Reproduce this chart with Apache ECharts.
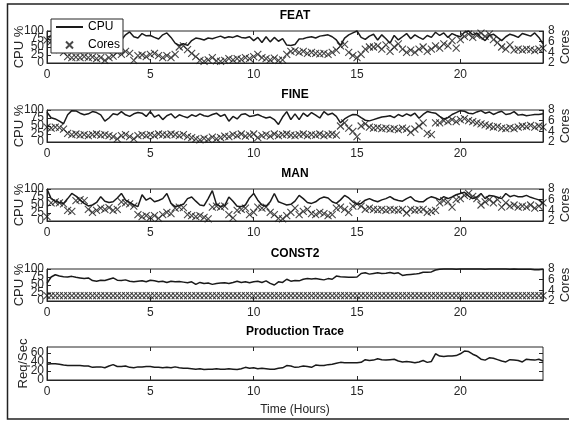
<!DOCTYPE html>
<html>
<head>
<meta charset="utf-8">
<script src="https://cdn.jsdelivr.net/npm/echarts@6/dist/echarts.min.js"></script>
<style>
html, body { margin: 0; padding: 0; background: #fff; }
#main { width: 569px; height: 422px; }
</style>
</head>
<body>
<div id="main"></div>
<script>
// sampling grid: one point every 0.2 h over 24 h
var hours = [];
for (var i = 0; i <= 120; i++) hours.push(Math.round(i * 2) / 10);

var titles = ['FEAT', 'FINE', 'MAN', 'CONST2', 'Production Trace'];
var xTicks = [0, 5, 10, 15, 20];
var cpuTicks = [0, 25, 50, 75, 100];
var coreTicks = [2, 4, 6, 8];
var reqTicks = [0, 20, 40, 60];

var featCpu = [
  80, 85, 75, 90, 80, 70, 85, 90, 75, 80,
  88, 72, 85, 92, 78, 82, 70, 75, 72, 88,
  97, 82, 78, 92, 85, 86, 80, 75, 88, 94,
  80, 62, 55, 60, 55, 70, 78, 76, 72, 78,
  76, 80, 84, 78, 82, 80, 85, 80, 78, 82,
  70, 80, 64, 82, 66, 80, 68, 76, 56, 55,
  58, 75, 76, 80, 82, 78, 84, 86, 88, 82,
  72, 55, 78, 88, 94, 100, 80, 74, 84, 90,
  72, 88, 76, 62, 86, 72, 82, 92, 76, 88,
  80, 74, 86, 80, 96, 86, 94, 80, 92, 86,
  82, 96, 100, 88, 94, 80, 70, 86, 90, 80,
  70, 82, 90, 86, 80, 92, 88, 84, 94, 80,
  60
];
var featCores = [
  6.3, 6.0, 5.5, 4.5, 4.0, 3.2, 3.0, 3.1, 3.0, 3.2,
  3.0, 3.1, 2.8, 3.0, 2.5, 3.0, 3.3, 4.0, 3.6, 4.2,
  3.8, 2.5, 3.4, 3.5, 3.2, 3.6, 3.8, 3.4, 3.0, 3.4,
  3.0, 3.6, 5.0, 5.2, 4.5, 3.8, 3.2, 2.5, 2.3, 2.6,
  3.0, 2.4, 2.3, 2.5, 2.8, 2.6, 2.8, 2.7, 3.0, 2.8,
  3.2, 3.6, 3.0, 2.8, 2.6, 2.9, 2.5, 2.6, 3.6, 4.2,
  4.3, 4.0, 4.2, 3.8, 4.0, 3.8, 3.7, 3.8, 3.6, 4.0,
  4.4, 5.2, 5.5, 4.0, 3.4, 3.0, 3.6, 4.6, 5.0, 5.0,
  5.2, 4.6, 5.4, 4.2, 5.0, 5.6, 4.6, 4.0, 4.4, 4.0,
  4.6, 5.0, 4.2, 4.6, 5.2, 4.8, 5.6, 5.2, 6.2, 4.8,
  6.4, 7.0, 7.4, 6.8, 7.2, 7.6, 7.0, 7.4, 6.4, 5.8,
  5.0, 4.6, 5.4, 4.4, 4.6, 4.4, 4.6, 4.5, 4.3, 4.6,
  4.8
];
var fineCpu = [
  93, 76, 72, 65, 57, 85, 98, 97, 90, 85,
  88, 95, 92, 85, 65, 75, 88, 85, 95, 85,
  80, 88, 92, 90, 80, 95, 78, 85, 70, 82,
  88, 75, 85, 80, 76, 85, 80, 88, 82, 80,
  86, 90, 80, 86, 65, 80, 72, 86, 88, 80,
  82, 86, 80, 75, 78, 70, 55, 78, 95, 70,
  88, 70, 90, 80, 92, 84, 75, 95, 85, 90,
  80, 60, 72, 80, 86, 85, 76, 68, 66, 70,
  74, 78, 80, 82, 76, 86, 80, 88, 82, 90,
  74, 86, 95, 92, 90, 80, 72, 76, 86, 92,
  98, 96, 90, 88, 94, 98, 90, 94, 86, 92,
  96, 86, 88, 95, 84, 86, 82, 84, 86, 86,
  88
];
var fineCores = [
  4.8, 4.6, 4.8, 4.7, 4.4, 3.6, 3.4, 3.5, 3.3, 3.4,
  3.2, 3.4, 3.5, 3.3, 3.4, 3.2, 3.0, 2.6, 3.2, 3.4,
  3.0, 2.6, 3.2, 3.4, 3.2, 3.4, 3.2, 3.5, 3.4, 3.3,
  3.5, 3.4, 3.2, 3.4, 3.0, 2.8, 2.6, 2.4, 2.7, 2.5,
  2.9, 2.6, 2.8, 3.1, 3.0, 3.4, 3.2, 3.5, 3.1, 3.3,
  3.5, 2.8, 3.2, 3.4, 3.1, 3.5, 3.2, 3.4, 3.5, 3.3,
  3.2, 3.4, 3.5, 3.2, 3.4, 3.3, 3.5, 3.2, 3.4, 3.5,
  3.3, 5.0, 5.6, 4.6, 4.0, 3.0, 5.0, 5.4, 4.8, 4.6,
  4.7, 4.5, 4.6, 4.4, 4.5, 4.3, 4.6, 4.4, 3.8, 4.4,
  5.0, 5.6, 3.6, 3.4, 5.6, 5.6, 6.0, 5.8, 6.2, 5.8,
  6.2, 6.4, 6.0, 5.8, 5.6, 5.4, 5.2, 5.0, 4.8, 4.9,
  4.6, 4.5, 4.7, 4.5, 4.8, 5.0, 4.9, 5.1, 4.8, 5.0,
  4.8
];
var manCpu = [
  100, 70, 62, 58, 55, 70, 86, 78, 65, 55,
  47, 50, 58, 76, 62, 58, 60, 72, 86, 65,
  58, 50, 45, 82, 65, 72, 60, 64, 70, 86,
  55, 45, 48, 52, 70, 75, 62, 50, 48, 70,
  95, 52, 45, 48, 75, 62, 46, 45, 50, 72,
  86, 65, 50, 46, 60, 86, 60, 55, 50, 52,
  62, 80, 70, 58, 55, 60, 70, 75, 72, 60,
  55, 66, 80, 72, 60, 52, 55, 65, 70, 64,
  60, 66, 70, 76, 68, 64, 62, 70, 76, 64,
  60, 60, 70, 76, 72, 66, 76, 70, 75, 82,
  86, 90, 78, 70, 75, 86, 70, 80, 78, 74,
  70, 86, 76, 80, 76, 76, 80, 74, 70, 66,
  55
];
var manCores = [
  2.8, 5.4, 5.6, 5.4, 5.2, 4.0, 3.8, 5.8, 6.0, 5.8,
  4.2, 3.6, 4.0, 4.4, 4.2, 4.5, 4.0, 4.2, 5.6, 5.4,
  5.2, 4.8, 3.2, 2.8, 3.0, 2.7, 3.0, 2.5, 3.2, 3.6,
  3.4, 4.4, 4.6, 4.5, 3.2, 3.0, 2.8, 3.0, 2.7, 2.4,
  4.6, 4.8, 4.6, 4.8, 3.2, 2.6, 4.0, 4.2, 4.4, 3.2,
  3.6, 4.6, 4.4, 4.6, 3.6, 3.2, 2.5, 2.4, 3.0, 3.6,
  4.4, 3.2, 3.8, 4.2, 3.4, 3.2, 3.6, 3.4, 3.0, 3.2,
  4.4, 4.6, 4.2, 3.6, 4.8, 5.2, 4.8, 4.2, 4.4, 4.2,
  4.1, 4.2, 4.0, 4.2, 4.1, 4.0, 4.2, 3.5, 4.2, 4.0,
  4.1, 4.2, 3.6, 3.8, 4.0, 5.4, 5.8, 5.6, 4.6, 6.0,
  6.2, 6.8, 7.2, 6.6, 6.2, 5.0, 5.6, 6.0, 5.4, 6.0,
  4.6, 5.4, 4.8, 5.0, 4.6, 4.8, 4.6, 5.0, 4.4, 4.8,
  5.4
];
var const2Cpu = [
  55, 75, 82, 78, 76, 75, 77, 74, 72, 70,
  72, 64, 62, 65, 64, 68, 72, 65, 64, 66,
  62, 60, 62, 63, 60, 65, 63, 60, 62, 58,
  62, 60, 61, 59, 57, 60, 52, 58, 55, 56,
  52, 55, 56, 57, 55, 58, 62, 58, 60, 57,
  60, 62, 58, 63, 55, 50, 60, 58, 68, 62,
  64, 63, 68, 70, 69, 70, 68, 66, 70, 68,
  78, 76, 75, 74, 74, 75, 86, 88, 84, 86,
  88, 86, 87, 89, 86, 88, 80, 82, 83, 84,
  86, 90, 90, 91, 97, 99, 100, 100, 100, 99,
  100, 100, 100, 100, 100, 100, 99, 100, 100, 100,
  100, 100, 99, 100, 99, 99, 99, 99, 98, 98,
  99
];
var const2Cores = [
  3, 3, 3, 3, 3, 3, 3, 3, 3, 3,
  3, 3, 3, 3, 3, 3, 3, 3, 3, 3,
  3, 3, 3, 3, 3, 3, 3, 3, 3, 3,
  3, 3, 3, 3, 3, 3, 3, 3, 3, 3,
  3, 3, 3, 3, 3, 3, 3, 3, 3, 3,
  3, 3, 3, 3, 3, 3, 3, 3, 3, 3,
  3, 3, 3, 3, 3, 3, 3, 3, 3, 3,
  3, 3, 3, 3, 3, 3, 3, 3, 3, 3,
  3, 3, 3, 3, 3, 3, 3, 3, 3, 3,
  3, 3, 3, 3, 3, 3, 3, 3, 3, 3,
  3, 3, 3, 3, 3, 3, 3, 3, 3, 3,
  3, 3, 3, 3, 3, 3, 3, 3, 3, 3,
  3
];
var prodReq = [
  35, 36, 36, 35, 33, 32, 32, 32, 32, 31,
  31, 28, 29, 29, 27, 31, 34, 30, 30, 31,
  28, 27, 29, 29, 30, 30, 28, 28, 27, 28,
  27, 29, 27, 26, 26, 25, 24, 25, 23, 24,
  24, 25, 24, 24, 25, 24, 23, 25, 28, 26,
  27, 25, 26, 25, 24, 24, 26, 27, 32, 31,
  28, 29, 31, 30, 28, 33, 32, 32, 34, 35,
  37, 39, 38, 38, 38, 38, 39, 45, 43, 44,
  47, 45, 44, 45, 46, 42, 40, 41, 40, 38,
  40, 43, 39, 41, 58, 53, 52, 53, 53, 54,
  58, 64, 63, 57, 53, 46, 44, 49, 48, 45,
  42, 40, 45, 44, 43, 40, 46, 45, 44, 46,
  42
];

var cpuSets = [featCpu, fineCpu, manCpu, const2Cpu];
var coreSets = [featCores, fineCores, manCores, const2Cores];
[].concat(cpuSets, coreSets, [prodReq]).forEach(function (a, k) {
  if (a.length !== hours.length) throw new Error('array ' + k + ' has ' + a.length);
});

var FONT = '"Liberation Sans", Arial, sans-serif';
var INK = '#262626';
var LINE = '#1a1a1a';
var gridTops = [31, 110, 189, 269, 347];
var gridHeights = [32, 32, 32, 32, 33];
var CROSS = 'path://M0,0L10,10M10,0L0,10';
// same cross, padded inside a 27x14 box so the legend draws it small
var CROSS_LEGEND = 'path://M0,0M27,14M10,3.5L17,10.5M17,3.5L10,10.5';

function pairs(vals) {
  return hours.map(function (h, i) { return [h, vals[i]]; });
}
function every(vals, start) {
  return vals.filter(function (v, i) { return i % 2 === start; });
}

function tickLabel(values, margin) {
  return {
    fontFamily: FONT, fontSize: 12, color: INK, margin: margin, customValues: values,
    showMinLabel: true, showMaxLabel: true, hideOverlap: false
  };
}
function innerTick(values) {
  return { show: true, inside: true, length: 4, customValues: values, lineStyle: { color: INK } };
}

// The labels on these short y axes overlap like in the original, and ECharts
// culls overlapping ones, so each y scale gets a twin axis carrying every other label.
function yAxisPair(grid, position, min, max, ticks, margin, name, gap) {
  var main = {
    type: 'value', gridIndex: grid, position: position, min: min, max: max,
    axisLine: { show: true, lineStyle: { color: INK } },
    axisTick: innerTick(ticks),
    axisLabel: tickLabel(every(ticks, 0), margin),
    splitLine: { show: false }
  };
  if (name) {
    main.name = name; main.nameLocation = 'middle'; main.nameGap = gap;
    main.nameRotate = 90; main.nameMoveOverlap = false;
    main.nameTextStyle = { fontFamily: FONT, fontSize: 13, color: INK };
  }
  var twin = {
    type: 'value', gridIndex: grid, position: position, min: min, max: max,
    axisLine: { show: false }, axisTick: { show: false },
    axisLabel: tickLabel(every(ticks, 1), margin),
    splitLine: { show: false }
  };
  return [main, twin];
}

var grids = [], xAxes = [], yAxes = [], series = [], titleList = [];

for (var k = 0; k < 5; k++) {
  grids.push({
    left: 47, right: 26, top: gridTops[k], height: gridHeights[k],
    outerBoundsMode: 'none', containLabel: false,
    show: true, borderColor: INK, borderWidth: 1, backgroundColor: 'transparent'
  });
  titleList.push({
    text: titles[k], left: 295, textAlign: 'center', top: gridTops[k] - 21, padding: 0,
    textStyle: { fontFamily: FONT, fontSize: 12, fontWeight: 'bold', color: '#000' }
  });
  xAxes.push({
    type: 'value', gridIndex: k, min: 0, max: 24, position: 'bottom',
    name: k === 4 ? 'Time (Hours)' : '', nameLocation: 'middle', nameGap: 24, nameMoveOverlap: false,
    nameTextStyle: { fontFamily: FONT, fontSize: 12, color: INK },
    axisLine: { show: true, onZero: false, lineStyle: { color: INK, width: 1 } },
    axisTick: innerTick(xTicks),
    axisLabel: tickLabel(xTicks, 6),
    splitLine: { show: false }
  });
  xAxes.push({
    type: 'value', gridIndex: k, min: 0, max: 24, position: 'top',
    axisLine: { show: false, onZero: false },
    axisTick: innerTick(xTicks),
    axisLabel: { show: false },
    splitLine: { show: false }
  });
}

for (var k = 0; k < 4; k++) {
  var cpuIndex = yAxes.length;
  yAxes = yAxes.concat(yAxisPair(k, 'left', 0, 100, cpuTicks, 3, 'CPU %', 21));
  var coreIndex = yAxes.length;
  yAxes = yAxes.concat(yAxisPair(k, 'right', 2, 8, coreTicks, 5, 'Cores', 16));
  series.push({
    name: 'CPU', type: 'line', xAxisIndex: 2 * k, yAxisIndex: cpuIndex,
    data: pairs(cpuSets[k]), symbol: 'none', clip: false, z: 3,
    lineStyle: { color: LINE, width: 1.5 }, itemStyle: { color: LINE }
  });
  series.push({
    name: 'Cores', type: 'scatter', xAxisIndex: 2 * k, yAxisIndex: coreIndex,
    data: pairs(coreSets[k]), symbol: CROSS, symbolSize: 7, clip: false, z: 2,
    itemStyle: { color: 'transparent', borderColor: LINE, borderWidth: 1.1 }
  });
}

var reqIndex = yAxes.length;
yAxes = yAxes.concat(yAxisPair(4, 'left', 0, 73, reqTicks, 3, 'Req/Sec', 17));
yAxes.push({
  type: 'value', gridIndex: 4, position: 'right', min: 0, max: 73,
  axisLine: { show: false },
  axisTick: innerTick(reqTicks),
  axisLabel: { show: false },
  splitLine: { show: false }
});
series.push({
  name: 'Requests', type: 'line', xAxisIndex: 8, yAxisIndex: reqIndex,
  data: pairs(prodReq), symbol: 'none',
  lineStyle: { color: LINE, width: 1.5 }
});

var chart = echarts.init(document.getElementById('main'), null, { renderer: 'canvas' });
chart.setOption({
  animation: false,
  backgroundColor: '#fff',
  textStyle: { fontFamily: FONT },
  title: titleList,
  legend: {
    data: [
      { name: 'CPU', itemStyle: { color: 'transparent', borderWidth: 0, opacity: 0 } },
      { name: 'Cores', icon: CROSS_LEGEND }
    ],
    orient: 'vertical', left: 51, top: 19,
    padding: [2, 3, 0, 4], itemGap: 4, itemWidth: 27, itemHeight: 14,
    backgroundColor: '#fff', borderColor: INK, borderWidth: 1,
    textStyle: { fontFamily: FONT, fontSize: 12, color: '#000' }
  },
  grid: grids,
  xAxis: xAxes,
  yAxis: yAxes,
  series: series,
  graphic: [{
    type: 'rect', silent: true, z: 100,
    shape: { x: 7.5, y: 4, width: 600, height: 415 },
    style: { fill: 'none', stroke: '#222', lineWidth: 1.5 }
  }]
});
</script>
</body>
</html>
